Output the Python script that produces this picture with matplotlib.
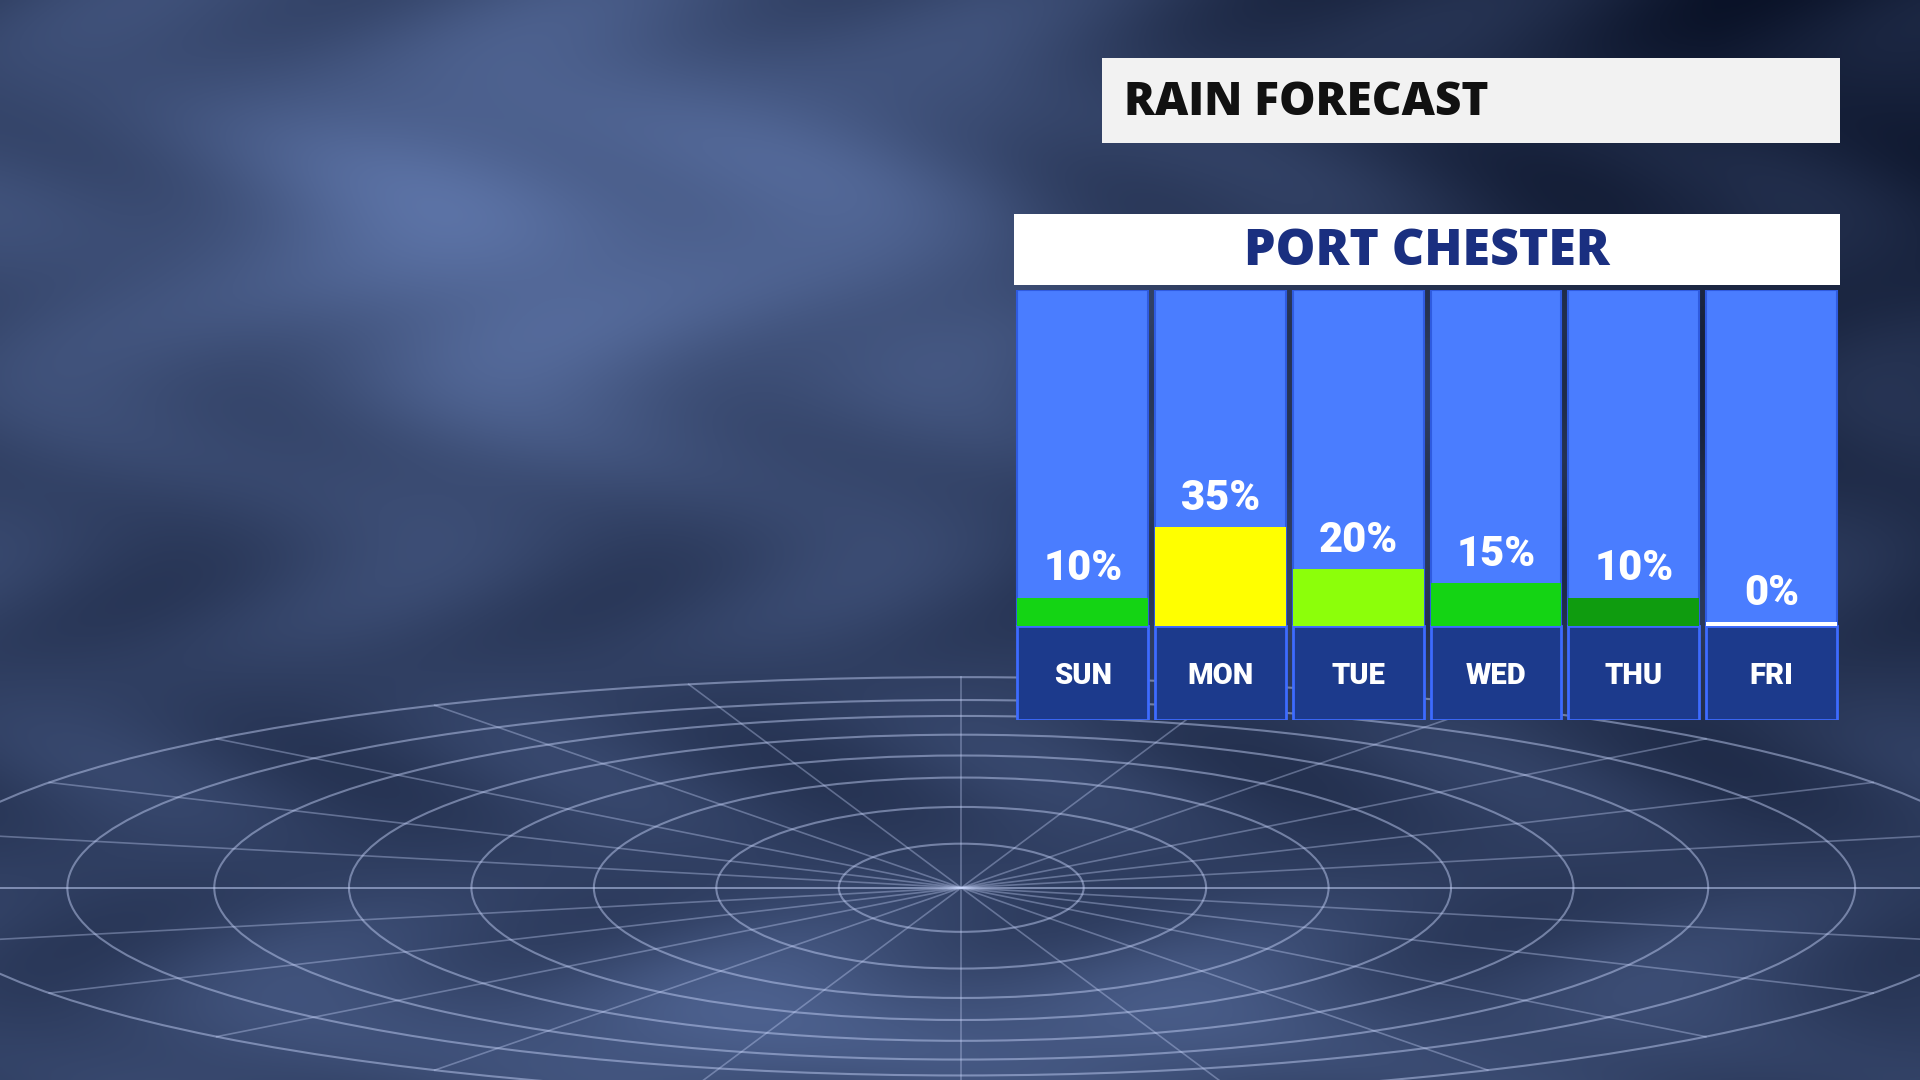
import numpy as np
import matplotlib
matplotlib.use("Agg")
import matplotlib.pyplot as plt
from matplotlib.patches import Rectangle, Ellipse

days = ["SUN", "MON", "TUE", "WED", "THU", "FRI"]
rain_pct = [10, 35, 20, 15, 10, 0]
bar_colors = ["#14d414", "#ffff00", "#8cff0a", "#14d414", "#0f9c0f", "#ffffff"]
title = "RAIN FORECAST"
location = "PORT CHESTER"

W, H = 1568, 882
fig = plt.figure(figsize=(19.2, 10.8), dpi=100)
bg = fig.add_axes([0, 0, 1, 1])
bg.set_xlim(0, W); bg.set_ylim(H, 0); bg.axis("off")

# stormy background gradient
yy, xx = np.mgrid[0:H:2, 0:W:2]
v = 0.28 + 0.28 * np.exp(-((xx - 450) ** 2 / 1.5e5 + (yy - 180) ** 2 / 4e4))
v += 0.06 * np.sin(xx / 60.0 + np.sin(yy / 40.0)) * np.cos(yy / 50.0)
v -= 0.2 * np.clip((xx - 800) / 600, 0, 1) * np.clip(1 - yy / 800, 0, 1)
v += 0.18 * np.exp(-((yy - 840) ** 2) / 6e3) * np.exp(-((xx - 700) ** 2) / 3e5)
v = np.clip(v, 0, 1)
img = np.dstack([0.55 * v + 0.03, 0.65 * v + 0.06, 0.85 * v + 0.14])
bg.imshow(np.clip(img, 0, 1), extent=(0, W, H, 0), aspect="auto", zorder=0)

# radar rings
cx, cy = 785, 725
for r, k in [(100, 0.36), (200, 0.33), (300, 0.3), (400, 0.27), (500, 0.25), (610, 0.23), (730, 0.21), (860, 0.2)]:
    bg.add_patch(Ellipse((cx, cy), 2 * r, 2 * r * k, fill=False,
                         ec=(0.8, 0.85, 1, 0.45), lw=1.5, zorder=1))
for ang in np.linspace(0, np.pi, 13):
    bg.plot([cx - 860 * np.cos(ang), cx + 860 * np.cos(ang)],
            [cy - 172 * np.sin(ang), cy + 172 * np.sin(ang)],
            color=(0.8, 0.85, 1, 0.35), lw=1.2, zorder=1)

# title boxes
bg.add_patch(Rectangle((900, 47), 603, 70, fc="#f2f2f2", ec="none", zorder=3))
bg.text(918, 84, title, fontsize=33, fontweight="heavy", family="Open Sans",
        color="#111111", va="center", ha="left", zorder=4)
bg.add_patch(Rectangle((828, 175), 675, 58, fc="#ffffff", ec="none", zorder=3))
bg.text(1165, 206, location, fontsize=36, fontweight="heavy", family="Open Sans",
        color="#1a2f80", va="center", ha="center", zorder=4)

# chart axes
ax = fig.add_axes([828 / W, 1 - 588 / H, 675 / W, (588 - 237) / H])
ymax = (511 - 237) / 2.3
ymin = -(588 - 511) / 2.3
ax.set_xlim(-0.5, len(days) - 0.5)
ax.set_ylim(ymin, ymax)
ax.axis("off")
x = np.arange(len(days))
w = 0.95
ax.bar(x, ymax, width=w, bottom=0, color="#4a7dff", edgecolor="#2f5be0", lw=1.5)
ax.bar(x, -ymin, width=w, bottom=ymin, color="#1c3a8c", edgecolor="#3d6bff", lw=2)
for i, (p, c) in enumerate(zip(rain_pct, bar_colors)):
    h = p if p > 0 else 1.3
    ax.bar(i, h, width=w, bottom=0, color=c, edgecolor="none")
    ax.text(i, h + 3, f"{p}%", ha="center", va="bottom", color="white",
            fontsize=30, fontweight="black", family="Roboto")
    ax.text(i, ymin / 2 - 1, days[i], ha="center", va="center", color="white",
            fontsize=21, fontweight="black", family="Roboto")

fig.savefig("out.png", dpi=100)
